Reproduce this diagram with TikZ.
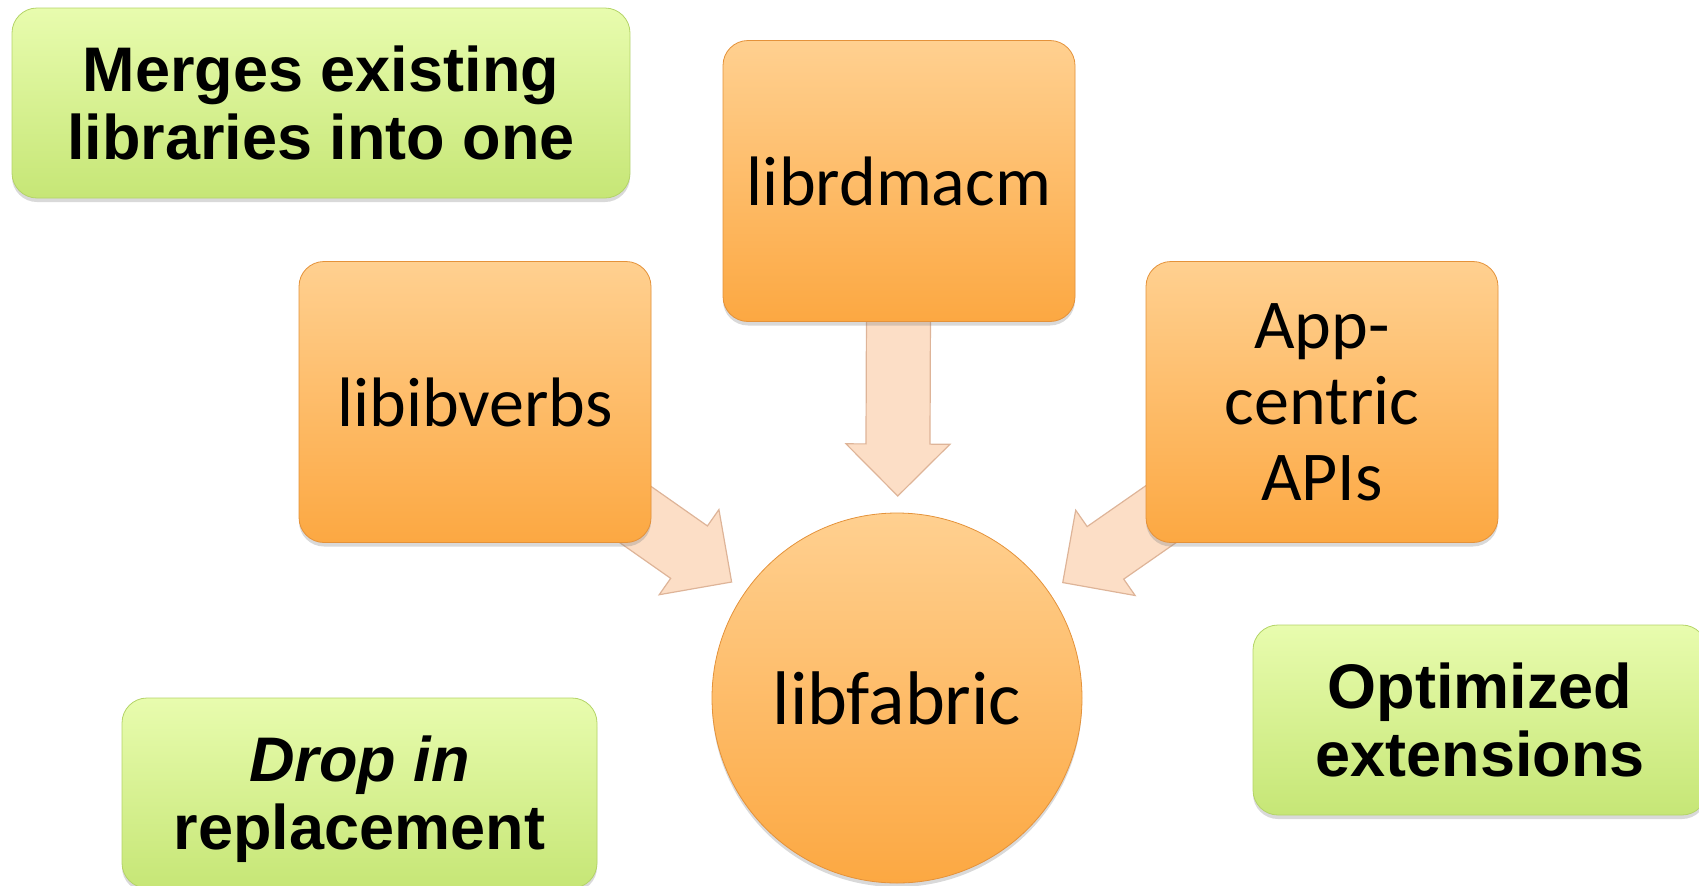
\documentclass[tikz,border=0pt]{standalone}
\usepackage{fontspec}
\newfontfamily\calibri{Carlito}
\newfontfamily\arial{Liberation Sans}
\usetikzlibrary{calc,shadows,backgrounds}
\definecolor{libtop}{RGB}{255,208,144}
\definecolor{libbot}{RGB}{252,168,66}
\definecolor{libline}{RGB}{228,146,58}
\definecolor{notetop}{RGB}{232,252,174}
\definecolor{notebot}{RGB}{198,230,118}
\definecolor{noteline}{RGB}{180,212,104}
\definecolor{flowfill}{RGB}{252,222,198}
\definecolor{flowline}{RGB}{222,180,152}
\tikzstyle{lib} = [draw=libline, top color=libtop, bottom color=libbot, rounded corners=12.5pt, minimum width=176pt, minimum height=140.5pt, align=center, font={\calibri\fontsize{35}{38}\selectfont}, drop shadow={shadow xshift=0pt, shadow yshift=-2pt, opacity=0.3}]
\tikzstyle{core} = [lib, circle, minimum size=185pt, inner sep=0pt, font={\calibri\fontsize{38}{40}\selectfont}]
\tikzstyle{note} = [draw=noteline, top color=notetop, bottom color=notebot, rounded corners=12.5pt, minimum height=95pt, align=center, text depth=0pt, font={\arial\bfseries\fontsize{31.5}{34}\selectfont}, drop shadow={shadow xshift=0pt, shadow yshift=-2pt, opacity=0.3}]
\tikzstyle{flow} = [draw=flowline, fill=flowfill, line width=0.6pt]
% block arrow from a box (#1) to the circle (#2)
\newcommand\fatarrow[2]{%
  \coordinate (tip) at ($(#2.center)!101pt!(#1.center)$);
  \coordinate (base) at ($(tip)!26pt!(#1.center)$);
  \filldraw[flow] ($(#1.center)!16pt!90:(tip)$) -- ($(base)!16pt!90:(tip)$) -- ($(base)!26pt!90:(tip)$) -- (tip)
    -- ($(base)!26pt!-90:(tip)$) -- ($(base)!16pt!-90:(tip)$) -- ($(#1.center)!16pt!-90:(tip)$) -- cycle;
}

\begin{document}
\begin{tikzpicture}[x=0.5pt,y=-0.5pt]
        \useasboundingbox (0,0) rectangle (1699,885);
        \node[lib](rdma) at (899,181){librdmacm};
        \node[lib](ibv) at (475,402){libibverbs};
        \node[lib](app) at (1322,402){App-\\centric\\APIs};
        \node[core](fab) at (897,698){libfabric};
        \node[note,minimum width=309pt](merge) at (321,103){Merges existing\\libraries into one};
        \node[note,minimum width=237.5pt](drop) at (359.5,793){{\itshape Drop in}\\replacement};
        \node[note,minimum width=227pt](opt) at (1480,720){Optimized\\extensions};
        \begin{pgfonlayer}{background}
        \fatarrow{ibv}{fab}
        \fatarrow{rdma}{fab}
        \fatarrow{app}{fab}
        \end{pgfonlayer}
\end{tikzpicture}
\end{document}
